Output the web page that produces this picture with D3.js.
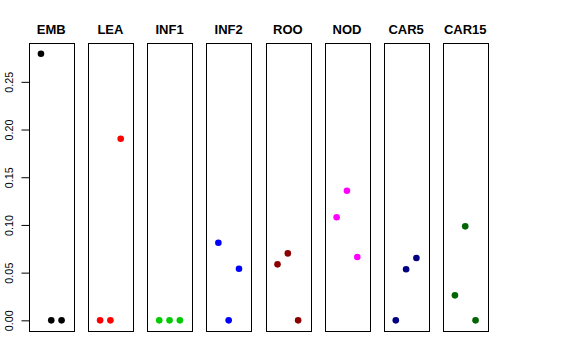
<!DOCTYPE html>
<html>
<head>
<meta charset="utf-8">
<script src="https://cdn.jsdelivr.net/npm/d3@7"></script>
<style>
  html, body { margin: 0; padding: 0; background: #fff; }
  svg { display: block; }
  text { font-family: "Liberation Sans", Arial, Helvetica, sans-serif; }
</style>
</head>
<body>
<script>
// ---- data ----
const categories = ["EMB", "LEA", "INF1", "INF2", "ROO", "NOD", "CAR5", "CAR15"];
const colors = ["#000000", "#FF0000", "#00CD00", "#0000FF", "#8B0000", "#FF00FF", "#000080", "#006400"];
const positions = [1, 2, 3];
const valuesEMB   = [0.2795, 0, 0];
const valuesLEA   = [0, 0, 0.1904];
const valuesINF1  = [0, 0, 0];
const valuesINF2  = [0.0814, 0, 0.0541];
const valuesROO   = [0.0587, 0.0702, 0];
const valuesNOD   = [0.1080, 0.1359, 0.0664];
const valuesCAR5  = [0, 0.0535, 0.0653];
const valuesCAR15 = [0.0262, 0.0985, 0];
const seriesValues = [valuesEMB, valuesLEA, valuesINF1, valuesINF2, valuesROO, valuesNOD, valuesCAR5, valuesCAR15];
const yTicks = [0, 0.05, 0.10, 0.15, 0.20, 0.25];
const yTickLabels = ["0.00", "0.05", "0.10", "0.15", "0.20", "0.25"];

// ---- layout ----
const W = 576, H = 360;
const plotTop = 43, plotBottom = 331;

const svg = d3.select("body").append("svg").attr("width", W).attr("height", H);

const panel = d3.scaleBand().domain(categories).range([29, 487.5]).paddingInner(0.247).paddingOuter(0);
const y = d3.scaleLinear().domain([-0.01118, 0.2907]).range([plotBottom, plotTop]);

categories.forEach((cat, i) => {
  const left = panel(cat), bw = panel.bandwidth();
  const x = d3.scaleLinear().domain([-0.16, 4.16]).range([left, left + bw]);
  const g = svg.append("g");
  g.append("rect")
    .attr("x", Math.round(left) + 0.5).attr("y", plotTop + 0.5)
    .attr("width", Math.round(bw)).attr("height", plotBottom - plotTop)
    .attr("fill", "none").attr("stroke", "#000").attr("stroke-width", 1);
  g.append("text")
    .attr("x", left + bw / 2).attr("y", 34)
    .attr("text-anchor", "middle")
    .attr("font-size", 13).attr("font-weight", "bold")
    .text(cat);
  g.selectAll("circle").data(seriesValues[i]).enter().append("circle")
    .attr("cx", (d, j) => x(positions[j]))
    .attr("cy", d => y(d))
    .attr("r", 3.3)
    .attr("fill", colors[i]);
});

// y axis (left of first panel)
const axisG = svg.append("g").attr("transform", `translate(${Math.round(panel(categories[0])) + 0.5},0)`);
const axis = d3.axisLeft(y).tickValues(yTicks).tickFormat((d, i) => yTickLabels[i]).tickSize(8).tickSizeOuter(0);
axisG.call(axis);
axisG.select(".domain").remove();
axisG.append("line").attr("x1", 0).attr("x2", 0).attr("y1", y(0)).attr("y2", y(0.25)).attr("stroke", "#000");
axisG.selectAll(".tick line").attr("stroke", "#000");
axisG.selectAll(".tick text")
  .attr("font-family", "Liberation Sans, Arial, sans-serif")
  .attr("font-size", 10.8)
  .attr("fill", "#000")
  .attr("transform", "rotate(-90)")
  .attr("x", 0).attr("y", -17)
  .attr("dy", 0)
  .attr("text-anchor", "middle");
</script>
</body>
</html>
